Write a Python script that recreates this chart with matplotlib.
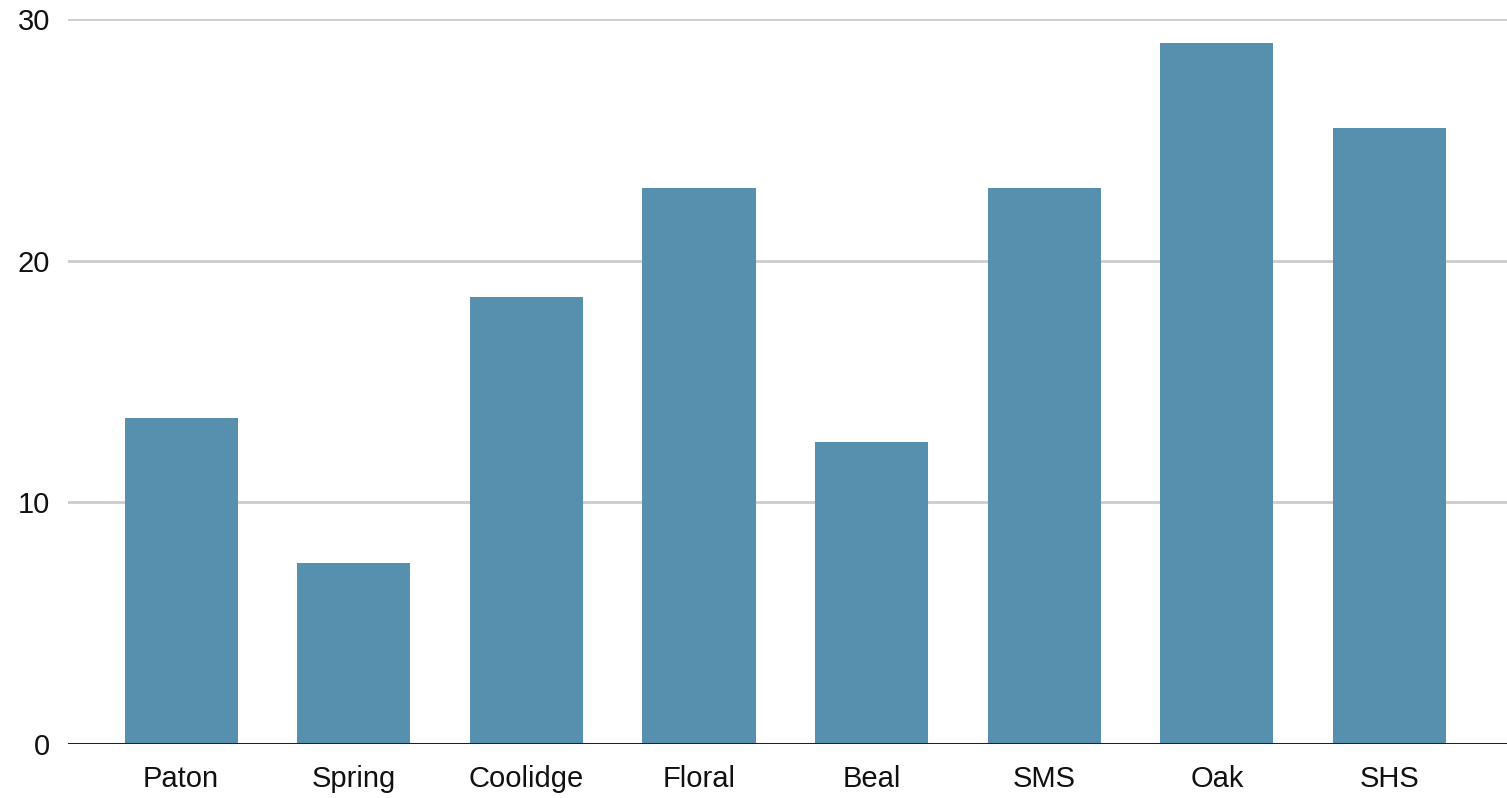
import matplotlib
matplotlib.use("Agg")
import matplotlib.pyplot as plt

schools = ["Paton", "Spring", "Coolidge", "Floral", "Beal", "SMS", "Oak", "SHS"]
values = [13.5, 7.5, 18.5, 23, 12.5, 23, 29, 25.5]
yticks = [0, 10, 20, 30]

plt.rcParams['font.family'] = ['Liberation Sans', 'DejaVu Sans']

fig = plt.figure(figsize=(15.07, 7.98), dpi=100)
ax = fig.add_axes([0.0451, 0.0677, 0.9549, 0.9085])

x = list(range(len(schools)))
ax.bar(x, values, width=0.655, color="#5790ae", zorder=3)

ax.set_xlim(-0.655, 7.68)
ax.set_ylim(0, 30)
ax.set_yticks(yticks)
ax.set_yticklabels([str(t) for t in yticks])
ax.set_xticks(x)
ax.set_xticklabels(schools)

ax.grid(axis="y", color="#cccccc", linewidth=2, zorder=0)
ax.axhline(0, color="#222222", linewidth=2.2, zorder=4)
for s in ax.spines.values():
    s.set_visible(False)
ax.tick_params(axis="both", length=0, labelsize=21, colors="#111111")
ax.tick_params(axis="y", pad=13)
ax.tick_params(axis="x", pad=15)

fig.savefig("out.png", dpi=100)
